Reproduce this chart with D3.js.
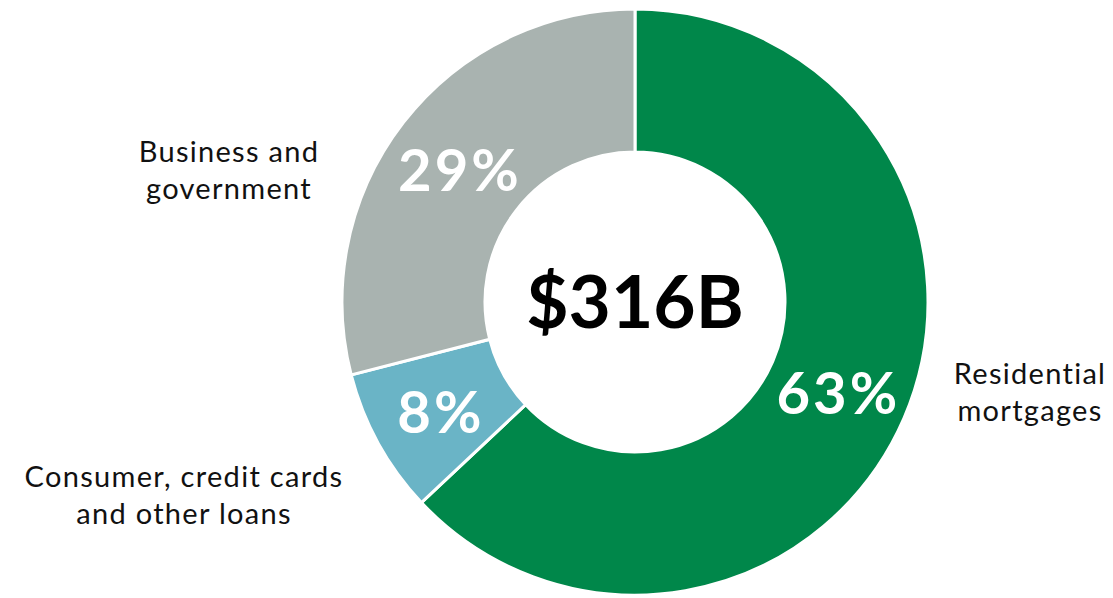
<!DOCTYPE html>
<html>
<head>
<meta charset="utf-8">
<script src="https://cdn.jsdelivr.net/npm/d3@7"></script>
<style>
  body { margin: 0; background: #fff; }
  svg { display: block; font-family: Lato, "Noto Sans", sans-serif; }
</style>
</head>
<body>
<div id="chart"></div>
<script>
// Loan portfolio composition
const categories = ["Residential mortgages", "Consumer, credit cards and other loans", "Business and government"];
const shares = [63, 8, 29];
const labelLines = [["Residential", "mortgages"], ["Consumer, credit cards", "and other loans"], ["Business and", "government"]];
const totalLabel = "$316B";

const colors = ["#00874a", "#6ab4c6", "#a9b3b0"];

const width = 1113, height = 598;
const cx = 635, cy = 302;
const outerR = 293, innerR = 150;

// outside label anchors (centre of each text block)
const labelPos = [
  {x: 1030, y: 384},
  {x: 184, y: 487},
  {x: 229, y: 162}
];

const svg = d3.select("#chart")
  .append("svg")
  .attr("width", width)
  .attr("height", height);

const g = svg.append("g")
  .attr("transform", `translate(${cx},${cy})`);

const data = categories.map((c, i) => ({name: c, value: shares[i], i}));

const pie = d3.pie()
  .sort(null)
  .value(d => d.value);

const arc = d3.arc()
  .innerRadius(innerR)
  .outerRadius(outerR);

const arcs = pie(data);

// Slices
g.selectAll("path")
  .data(arcs)
  .join("path")
  .attr("d", arc)
  .attr("fill", d => colors[d.data.i])
  .attr("stroke", "#fff")
  .attr("stroke-width", 3);

// Percent labels on the ring
g.selectAll("text.pct")
  .data(arcs)
  .join("text")
  .attr("class", "pct")
  .attr("transform", d => `translate(${arc.centroid(d)})`)
  .attr("text-anchor", "middle")
  .attr("dy", "0.42em")
  .attr("fill", "#fff")
  .attr("font-size", 58)
  .attr("font-weight", 700)
  .attr("letter-spacing", 3)
  .text(d => d.data.value + "%");

// Total in the centre
g.append("text")
  .attr("text-anchor", "middle")
  .attr("dy", "0.36em")
  .attr("font-size", 73)
  .attr("font-weight", 700)
  .attr("fill", "#000")
  .text(totalLabel);

// Category labels
const lab = svg.selectAll("text.cat")
  .data(labelLines)
  .join("text")
  .attr("class", "cat")
  .attr("text-anchor", "middle")
  .attr("font-size", 29)
  .attr("letter-spacing", 1.3)
  .attr("fill", "#111")
  .attr("transform", (d, i) => `translate(${labelPos[i].x},${labelPos[i].y})`);

lab.selectAll("tspan")
  .data(d => d)
  .join("tspan")
  .attr("x", 0)
  .attr("y", (d, j) => j * 37)
  .text(d => d);
</script>
</body>
</html>
